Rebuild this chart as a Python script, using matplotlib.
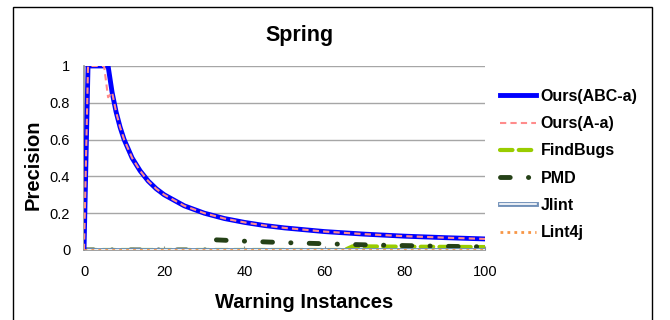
import numpy as np
import matplotlib
matplotlib.use("Agg")
import matplotlib.pyplot as plt
import matplotlib.patheffects as pe
from matplotlib.patches import Rectangle

plt.rcParams['font.family'] = ['Liberation Sans', 'DejaVu Sans']

## DATA ##
x_ours = [0, 1, 2, 3, 4, 5, 6, 7, 8, 9, 10, 12, 14, 16, 18, 20, 25, 30, 35, 40, 45, 50, 60, 70, 80, 90, 100]
ours_abc = [0, 1, 1, 1, 1, 1, 1, 0.857, 0.75, 0.667, 0.6, 0.5, 0.43, 0.375, 0.333, 0.3, 0.24, 0.2, 0.171,
            0.15, 0.133, 0.12, 0.1, 0.086, 0.075, 0.067, 0.06]
ours_a = [0, 1, 1, 1, 1, 1, 0.83, 0.857, 0.75, 0.667, 0.6, 0.5, 0.43, 0.375, 0.333, 0.3, 0.24, 0.2, 0.171,
          0.15, 0.133, 0.12, 0.1, 0.086, 0.075, 0.067, 0.06]

x_findbugs = [0, 65, 67, 80, 90, 100]
findbugs = [0, 0, 0.02, 0.018, 0.017, 0.016]

x_pmd = [0, 32, 33, 40, 50, 60, 70, 80, 90, 100]
pmd = [0, 0, 0.055, 0.048, 0.04, 0.034, 0.028, 0.024, 0.02, 0.017]

x_zero = [0, 100]
jlint = [0, 0]
lint4j = [0, 0]

## PLOT ##
fig = plt.figure(figsize=(6.7, 3.2), dpi=100)
ax = fig.add_axes([0.1254, 0.2188, 0.5985, 0.575])

ax.plot(x_findbugs, findbugs, color='#99CC00', lw=3, ls=(0, (3, 1.5)), dash_capstyle='round',
        label='FindBugs', zorder=2.4)
ax.plot(x_pmd, pmd, color='#254117', lw=3.5, ls=(0, (2, 3.75, 0.05, 3.75)), dash_capstyle='round',
        label='PMD', zorder=2.5)
ax.plot(x_zero, jlint, color='white', lw=1.2, label='Jlint', zorder=3,
        path_effects=[pe.Stroke(linewidth=3.5, foreground='#7090B8'), pe.Normal()])
ax.plot(x_ours, ours_abc, color='#0000FF', lw=3.5, label='Ours(ABC-a)', zorder=6)
ax.plot(x_ours, ours_a, color='#FF8C8C', lw=1.5, ls=(0, (3, 2)), label='Ours(A-a)', zorder=7)
ax.plot(x_zero, lint4j, color='#F79646', lw=2, ls=(0, (1, 1.5)), label='Lint4j', zorder=8)

ax.set_xlim(0, 100)
ax.set_ylim(0, 1)
ax.set_xticks(np.arange(0, 101, 20))
ax.set_yticks(np.arange(0, 1.01, 0.2))
ax.yaxis.set_major_formatter(matplotlib.ticker.FormatStrFormatter('%g'))
ax.yaxis.grid(True, color='#A6A6A6', lw=1)
ax.set_axisbelow(True)
for s in ['top', 'right']:
    ax.spines[s].set_visible(False)
for s in ['left', 'bottom']:
    ax.spines[s].set_color('#909090')
    ax.spines[s].set_linewidth(1.2)
ax.tick_params(axis='x', direction='in', length=3, color='#909090', labelsize=10.5, pad=11)
ax.tick_params(axis='y', length=0, labelsize=10.5, pad=10)

fig.text(33.5 / 670, 1 - 165 / 320, 'Precision', rotation=90, ha='center', va='center',
         fontsize=14.5, fontweight='bold')
fig.text(304 / 670, 1 - 303 / 320, 'Warning Instances', ha='center', va='center',
         fontsize=14.5, fontweight='bold')
fig.text(300 / 670, 1 - 36 / 320, 'Spring', ha='center', va='center', fontsize=15.5, fontweight='bold')

handles, labels = ax.get_legend_handles_labels()
order = ['Ours(ABC-a)', 'Ours(A-a)', 'FindBugs', 'PMD', 'Jlint', 'Lint4j']
h = [handles[labels.index(o)] for o in order]
fig.legend(h, order, loc='upper left', bbox_to_anchor=(0.746, 0.7225), frameon=False,
           prop={'size': 11.5, 'weight': 'bold'}, handlelength=2.25, handletextpad=0.3,
           labelspacing=0.77, borderaxespad=0, borderpad=0)

fig.add_artist(Rectangle((13 / 670, -0.1), (652 - 13) / 670, 1.078, transform=fig.transFigure,
                         fill=False, edgecolor='black', lw=1))

plt.savefig('out.png', dpi=100)
